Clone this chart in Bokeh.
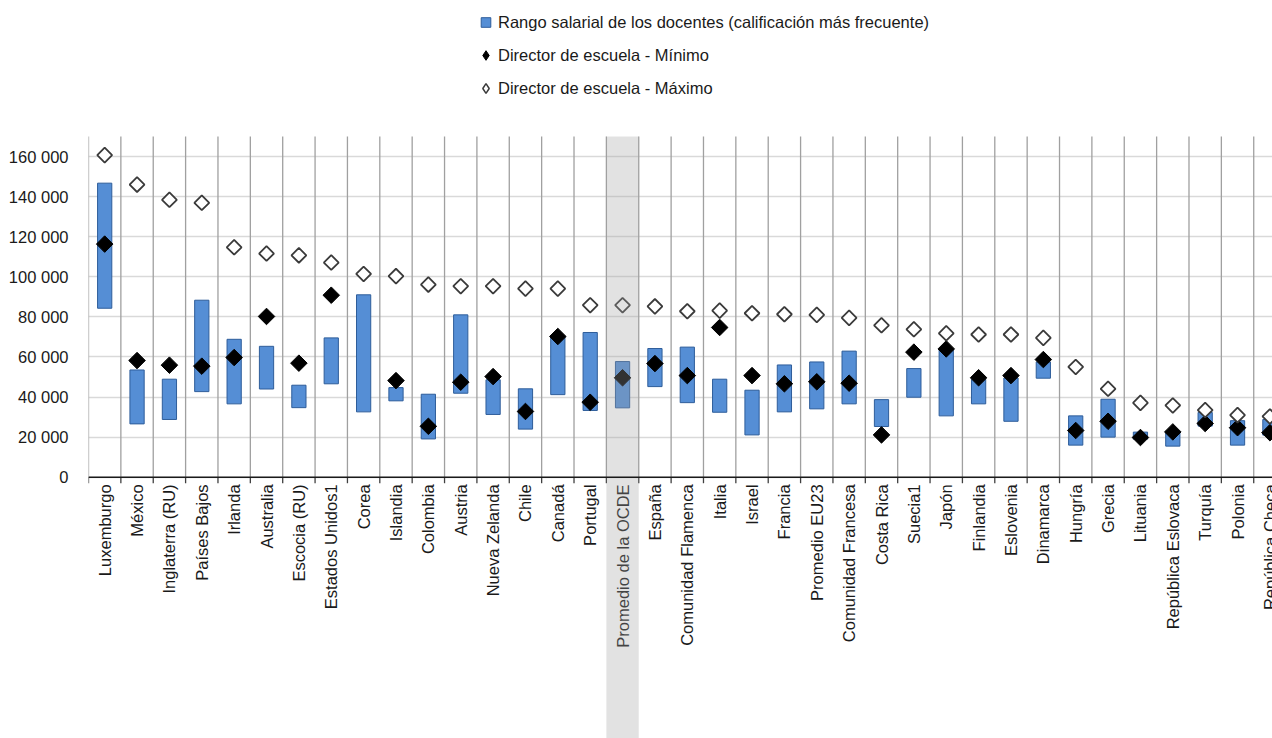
import numpy as np
from bokeh.plotting import figure
from bokeh.models import Range1d, FixedTicker, Legend, LegendItem, ColumnDataSource, Span
from bokeh.core.properties import value
from bokeh.embed import file_html
from bokeh.resources import INLINE

categories = [
    "Luxemburgo", "México", "Inglaterra (RU)", "Países Bajos", "Irlanda", "Australia",
    "Escocia (RU)", "Estados Unidos1", "Corea", "Islandia", "Colombia", "Austria",
    "Nueva Zelanda", "Chile", "Canadá", "Portugal", "Promedio de la OCDE", "España",
    "Comunidad Flamenca", "Italia", "Israel", "Francia", "Promedio EU23",
    "Comunidad Francesa", "Costa Rica", "Suecia1", "Japón", "Finlandia", "Eslovenia",
    "Dinamarca", "Hungría", "Grecia", "Lituania", "República Eslovaca", "Turquía",
    "Polonia", "República Checa",
]
teacher_low = [84300, 26600, 28800, 42700, 36600, 44000, 34700, 46600, 32600, 38100,
               19100, 41900, 31300, 24000, 41200, 33300, 34600, 45200, 37200, 32400,
               21100, 32600, 34100, 36600, 25300, 39900, 30600, 36600, 27900, 49400,
               16000, 20000, 19000, 15500, 25500, 16000, 21000]
teacher_high = [146700, 53500, 48900, 88300, 68800, 65300, 45900, 69500, 91000, 44700,
                41400, 81000, 48600, 44100, 70200, 72200, 57700, 64200, 64900, 48900,
                43400, 56000, 57500, 62900, 38700, 54200, 64000, 48800, 49500, 57500,
                30600, 38900, 22500, 23000, 32300, 28200, 28800]
head_min = [116300, 58200, 55900, 55400, 59700, 80200, 56900, 90800, float("nan"), 48200,
            25400, 47400, 50200, 32800, 70200, 37400, 49600, 56700, 50700, 74700,
            50700, 46600, 47600, 46900, 21100, 62400, 64000, 49600, 50700, 58700,
            23300, 27900, 19800, 22600, 26800, 24700, 22200]
head_max = [160700, 146000, 138400, 136900, 114700, 111600, 110700, 107100, 101400, 100300,
            96100, 95300, 95300, 94100, 94100, 85800, 85800, 85200, 82800, 83100,
            81800, 81300, 81000, 79500, 75800, 73800, 71800, 71200, 71200, 69500,
            55000, 44100, 37100, 35800, 33500, 31000, 30300]
highlight = "Promedio de la OCDE"
y_ticks = [0, 20000, 40000, 60000, 80000, 100000, 120000, 140000, 160000]
y_tick_labels = ["0", "20 000", "40 000", "60 000", "80 000", "100 000", "120 000",
                 "140 000", "160 000"]
legend_labels = ["Rango salarial de los docentes (calificación más frecuente)",
                 "Director de escuela - Mínimo",
                 "Director de escuela - Máximo"]

FONT = "Liberation Sans"
BAR_FILL = "#558ed5"
BAR_LINE = "#2e5d9a"
Y_TOP = 170000

n = len(categories)
centers = np.arange(n) + 0.5
bounds = np.arange(n + 1)

src = ColumnDataSource(dict(x=centers, lo=teacher_low, hi=teacher_high,
                            mn=np.array(head_min, dtype=float), mx=head_max,
                            cat=categories))

p = figure(width=1272, height=738, x_range=Range1d(0, 36.58),
           y_range=Range1d(-130360, 237830), output_backend="svg",
           toolbar_location=None, x_axis_location=None,
           min_border_left=88, min_border_right=0, min_border_top=0,
           min_border_bottom=0, outline_line_color=None)
p.background_fill_color = "white"
p.border_fill_color = "white"

p.xgrid.visible = False
p.ygrid.ticker = FixedTicker(ticks=y_ticks)
p.ygrid.grid_line_color = "#d9d9d9"
p.ygrid.grid_line_width = 1.5

yax = p.yaxis[0]
yax.ticker = FixedTicker(ticks=y_ticks)
yax.major_label_overrides = {t: l for t, l in zip(y_ticks, y_tick_labels)}
yax.axis_line_color = None
yax.major_tick_line_color = None
yax.minor_tick_line_color = None
yax.major_tick_out = 0
yax.major_label_standoff = 20
yax.major_label_text_font = FONT
yax.major_label_text_font_size = "16.5px"
yax.major_label_text_color = "#1a1a1a"

# category separators and ticks
p.segment(x0=bounds, x1=bounds, y0=0, y1=Y_TOP, line_color="#a0a0a0", line_width=1.3)
p.segment(x0=bounds, x1=bounds, y0=-3000, y1=0, line_color="#404040", line_width=1.3)
p.add_layout(Span(location=0, dimension="width", line_color="#1a1a1a", line_width=1.5))

p.vbar(x="x", width=0.44, bottom="lo", top="hi", source=src,
       fill_color=BAR_FILL, line_color=BAR_LINE, line_width=1)
p.scatter(x="x", y="mn", source=src, marker="square", angle=np.pi / 4, size=11.7,
          fill_color="black", line_color="black")
p.scatter(x="x", y="mx", source=src, marker="square", angle=np.pi / 4, size=10.5,
          fill_color="white", line_color="#3a3a3a", line_width=1.8)

p.text(x="x", y=-3600, text="cat", source=src, angle=np.pi / 2,
       text_align="right", text_baseline="middle", text_font=value(FONT),
       text_font_size="16.5px", text_color="#1a1a1a")

idx = categories.index(highlight)
p.quad(left=[bounds[idx]], right=[bounds[idx + 1]], top=[Y_TOP], bottom=[-1e6],
       fill_color="#a3a3a3", fill_alpha=0.31, line_color=None)

proxy = lambda: ColumnDataSource(dict(x=[np.nan], y=[np.nan]))
r1 = p.scatter(x="x", y="y", source=proxy(), marker="square",
               fill_color=BAR_FILL, line_color=BAR_LINE)
r2 = p.scatter(x="x", y="y", source=proxy(), marker="diamond",
               fill_color="black", line_color="black")
r3 = p.scatter(x="x", y="y", source=proxy(), marker="diamond",
               fill_color="white", line_color="#3a3a3a", line_width=1.5)

legend = Legend(items=[LegendItem(label=legend_labels[0], renderers=[r1]),
                       LegendItem(label=legend_labels[1], renderers=[r2]),
                       LegendItem(label=legend_labels[2], renderers=[r3])],
                location=(385, 638), orientation="vertical",
                glyph_width=25, glyph_height=24, label_height=24, spacing=9,
                padding=0, margin=0, label_standoff=-4,
                border_line_color=None, background_fill_alpha=0,
                label_text_font=FONT, label_text_font_size="16.5px",
                label_text_color="#1a1a1a")
p.add_layout(legend)

open("out.html", "w").write(file_html(p, INLINE))
